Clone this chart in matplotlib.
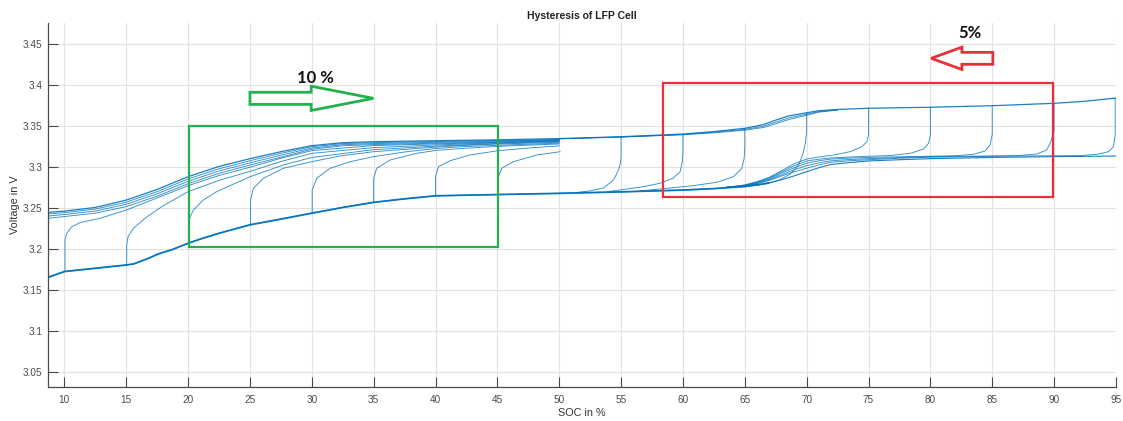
import matplotlib
matplotlib.use("Agg")
import matplotlib.pyplot as plt
from matplotlib.patches import Rectangle, Polygon

# ---------------- data (SOC in %, voltage in V) ----------------
# main discharge branch (lower)
lower_soc = [8.7, 10, 12.5, 15, 15.6, 16.1, 16.8, 17.6, 18.7, 20, 21, 22.5, 25, 27.5, 30, 32.5, 35, 37.5,
             40, 45, 50, 55, 60, 62.5, 65, 66, 67, 68, 69, 70, 71, 72, 73.5, 75, 77.5, 80, 85, 90, 95]
lower_v = [3.1658, 3.1728, 3.1768, 3.1808, 3.1821, 3.1849, 3.1890, 3.1943, 3.1995, 3.2073, 3.2125, 3.2195,
           3.2298, 3.2368, 3.2440, 3.2510, 3.2572, 3.2615, 3.2652, 3.2667, 3.2682, 3.2700, 3.2722, 3.2740,
           3.2765, 3.2785, 3.2810, 3.2850, 3.2895, 3.2946, 3.2995, 3.3035, 3.3058, 3.3077, 3.3092, 3.3105,
           3.3120, 3.3130, 3.3137]

# main charge branch (upper)
upper_soc = [8.7, 10, 12.5, 15, 17.5, 20, 22.5, 25, 27.5, 30, 32.5, 35, 40, 45, 50, 55, 60, 62.5, 65,
             66.5, 67.5, 68.5, 70, 71, 72.5, 75, 80, 85, 90, 92.5, 95]
upper_v = [3.2450, 3.2465, 3.2510, 3.2600, 3.2730, 3.2885, 3.3010, 3.3105, 3.3190, 3.3264, 3.3300, 3.3312,
           3.3324, 3.3335, 3.3350, 3.3373, 3.3405, 3.3435, 3.3475, 3.3520, 3.3575, 3.3625, 3.3665, 3.3690,
           3.3705, 3.3720, 3.3732, 3.3751, 3.3780, 3.3805, 3.3845]

# further charge lines from empty cell
bundle_soc = [8.7, 10, 12.5, 15, 17.5, 20, 22.5, 25, 27.5, 30, 32.5, 35, 40, 45, 50]
b2_v = [3.2430, 3.2447, 3.2490, 3.2575, 3.2703, 3.2857, 3.2982, 3.3080, 3.3170, 3.3251, 3.3288, 3.3300, 3.3314, 3.3326, 3.3340]
b3_v = [3.2405, 3.2424, 3.2466, 3.2549, 3.2677, 3.2829, 3.2955, 3.3054, 3.3147, 3.3235, 3.3275, 3.3289, 3.3304, 3.3318, 3.3335]
b4_v = [3.2378, 3.2399, 3.2440, 3.2520, 3.2648, 3.2800, 3.2926, 3.3027, 3.3123, 3.3220, 3.3262, 3.3277, 3.3294, 3.3310, 3.3330]

# upper branch repeats (55-72 %)
ub_soc = [50, 55, 60, 62.5, 65, 66.5, 67.5, 68.5, 70, 71, 72.5]
ub2_v = [3.3348, 3.3370, 3.3400, 3.3428, 3.3462, 3.3500, 3.3550, 3.3600, 3.3648, 3.3680, 3.3700]
ub3_v = [3.3346, 3.3368, 3.3396, 3.3420, 3.3452, 3.3485, 3.3530, 3.3580, 3.3635, 3.3672, 3.3698]

# charge curves started from the discharge branch (10 % steps)
c10_soc = [10.05, 10.05, 10.19, 10.6, 11.27, 12.89, 15.04, 17.47, 20, 22.5, 25, 27.5, 30, 35, 40, 45, 50]
c10_v = [3.1728, 3.2113, 3.2195, 3.2276, 3.2325, 3.2378, 3.2480, 3.2625, 3.2775, 3.2900, 3.3000, 3.3110,
         3.3203, 3.3265, 3.3285, 3.3303, 3.3325]
c15_soc = [15.04, 15.04, 15.15, 15.58, 16.52, 17.87, 20, 22.5, 25, 27.5, 30, 35, 40, 45, 50]
c15_v = [3.1809, 3.2050, 3.2155, 3.2256, 3.2378, 3.2520, 3.2703, 3.2840, 3.2950, 3.3070, 3.3170, 3.3240,
         3.3272, 3.3298, 3.3320]
c20_soc = [20.05, 20.05, 20.43, 21.24, 22.32, 25.01, 27.7, 30, 35, 40, 45, 50]
c20_v = [3.2075, 3.2357, 3.2479, 3.2601, 3.2703, 3.2885, 3.3028, 3.3120, 3.3215, 3.3258, 3.3290, 3.3315]
c25_soc = [25.05, 25.05, 25.28, 26.09, 27.7, 30, 32.29, 35, 37.68, 40, 42, 45, 50]
c25_v = [3.2298, 3.2601, 3.2744, 3.2866, 3.2988, 3.3068, 3.3138, 3.3190, 3.3220, 3.3245, 3.3265, 3.3283, 3.3305]
c30_soc = [30.03, 30.03, 30.4, 31.48, 33.1, 35, 37.68, 40, 42, 45, 50]
c30_v = [3.2440, 3.2723, 3.2866, 3.2988, 3.3068, 3.3130, 3.3190, 3.3228, 3.3250, 3.3268, 3.3295]
c35_soc = [35.0, 35.0, 35.25, 36.33, 38.5, 40, 42, 45, 50]
c35_v = [3.2572, 3.2866, 3.2988, 3.3089, 3.3171, 3.3205, 3.3228, 3.3255, 3.3284]
c40_soc = [40.0, 40.0, 40.24, 41.18, 42.8, 44.96, 47.5, 50]
c40_v = [3.2652, 3.2885, 3.3007, 3.3080, 3.3150, 3.3200, 3.3235, 3.3260]
c45_soc = [45.03, 45.03, 45.36, 46.3, 48.19, 50.07]
c45_v = [3.2667, 3.2866, 3.2988, 3.3068, 3.3150, 3.3190]

# discharge curves started from the charge branch (5 % steps)
d55_soc = [55, 55, 54.95, 54.8, 54.4, 53.6, 52.5, 51.5]
d55_v = [3.3373, 3.3130, 3.3050, 3.2970, 3.2845, 3.2750, 3.2712, 3.2695]
d60_soc = [60, 60, 59.95, 59.77, 59.2, 58.16, 56.8, 55.5, 54]
d60_v = [3.3405, 3.3200, 3.3068, 3.2946, 3.2866, 3.2805, 3.2764, 3.2735, 3.2705]
d65_soc = [65, 65, 64.95, 64.76, 64.08, 62.74, 60.85, 58.16, 56.5]
d65_v = [3.3475, 3.3250, 3.3110, 3.2988, 3.2885, 3.2817, 3.2776, 3.2735, 3.2712]
d70_soc = [70, 70, 69.9, 69.7, 69.35, 68.7, 67.8, 66.6, 65.3, 63.5]
d70_v = [3.3665, 3.3450, 3.3300, 3.3160, 3.3030, 3.2920, 3.2845, 3.2795, 3.2775, 3.2755]
d75_soc = [75, 75, 74.87, 74.46, 73.5, 72.2, 71, 70, 69, 68, 67, 66, 65, 63.5]
d75_v = [3.3720, 3.3394, 3.3312, 3.3251, 3.3190, 3.3150, 3.3125, 3.3100, 3.3045, 3.2960, 3.2880, 3.2825,
         3.2785, 3.2755]
d80_soc = [80, 80, 79.85, 79.45, 78.4, 76.75, 75, 73.5, 72, 71, 70, 69, 68, 67, 66, 65, 63.5]
d80_v = [3.3732, 3.3394, 3.3292, 3.3223, 3.3171, 3.3142, 3.3135, 3.3125, 3.3115, 3.3098, 3.3077, 3.3020,
         3.2945, 3.2870, 3.2818, 3.2782, 3.2755]
d85_soc = [85, 85, 84.83, 84.43, 83.5, 81.9, 80, 77.5, 75, 73.5, 72, 71, 70, 69, 68, 67, 66, 65, 63.5]
d85_v = [3.3751, 3.3400, 3.3272, 3.3199, 3.3158, 3.3140, 3.3135, 3.3128, 3.3120, 3.3112, 3.3100, 3.3080,
         3.3050, 3.2995, 3.2930, 3.2860, 3.2812, 3.2778, 3.2755]
d90_soc = [90, 90, 89.74, 89.4, 88.6, 87, 85, 80, 77.5, 75, 73.5, 72, 71, 70, 69, 68, 67, 66, 65, 63.5]
d90_v = [3.3780, 3.3450, 3.3312, 3.3211, 3.3162, 3.3142, 3.3138, 3.3130, 3.3118, 3.3105, 3.3095, 3.3080,
         3.3055, 3.3020, 3.2970, 3.2910, 3.2850, 3.2805, 3.2775, 3.2755]
d95_soc = [94.94, 94.94, 94.8, 94.4, 93.46, 92.1, 90, 85, 80, 77.5, 75, 73.5, 72, 71, 70, 69, 68, 67, 66, 65, 63.5]
d95_v = [3.3845, 3.3394, 3.3251, 3.3190, 3.3158, 3.3142, 3.3140, 3.3135, 3.3122, 3.3110, 3.3092, 3.3080,
         3.3062, 3.3030, 3.2988, 3.2945, 3.2895, 3.2840, 3.2800, 3.2772, 3.2755]

x_ticks = [10, 15, 20, 25, 30, 35, 40, 45, 50, 55, 60, 65, 70, 75, 80, 85, 90, 95]
y_ticks = [3.05, 3.1, 3.15, 3.2, 3.25, 3.3, 3.35, 3.4, 3.45]
y_tick_labels = ["3.05", "3.1", "3.15", "3.2", "3.25", "3.3", "3.35", "3.4", "3.45"]

# ---------------- figure ----------------
plt.rcParams["font.family"] = ["Liberation Sans", "DejaVu Sans"]
fig = plt.figure(figsize=(11.23, 4.21), dpi=100)
ax = fig.add_axes([0.043, 0.0808, 0.9507, 0.8646])

BLUE = "#0072BD"
thin = dict(color=BLUE, lw=0.65, alpha=0.8, solid_joinstyle="round")

curves = [
    (bundle_soc, b2_v), (bundle_soc, b3_v), (bundle_soc, b4_v),
    (ub_soc, ub2_v), (ub_soc, ub3_v),
    (c10_soc, c10_v), (c15_soc, c15_v), (c20_soc, c20_v), (c25_soc, c25_v),
    (c30_soc, c30_v), (c35_soc, c35_v), (c40_soc, c40_v), (c45_soc, c45_v),
    (d55_soc, d55_v), (d60_soc, d60_v), (d65_soc, d65_v), (d70_soc, d70_v),
    (d75_soc, d75_v), (d80_soc, d80_v), (d85_soc, d85_v), (d90_soc, d90_v), (d95_soc, d95_v),
]
for xs, ys in curves:
    ax.plot(xs, ys, **thin)

ax.plot(upper_soc, upper_v, color=BLUE, lw=0.9, alpha=0.9, solid_joinstyle="round")
ax.plot(lower_soc, lower_v, color=BLUE, lw=0.8, alpha=0.9, solid_joinstyle="round")
n_thick = lower_soc.index(67) + 1
ax.plot(lower_soc[:n_thick], lower_v[:n_thick], color=BLUE, lw=1.3, alpha=0.9,
        solid_capstyle="butt", solid_joinstyle="round")

# ---------------- axes styling (MATLAB-like) ----------------
ax.set_xlim(8.7, 95)
ax.set_ylim(3.032, 3.476)
ax.set_xticks(x_ticks)
ax.set_yticks(y_ticks)
ax.set_yticklabels(y_tick_labels)
ax.tick_params(direction="in", length=7, width=0.8, colors="#4a4a4a", labelsize=7.2,
               labelcolor="#4a4a4a")
ax.tick_params(axis="x", pad=6)
ax.tick_params(axis="y", pad=4)
ax.grid(True, color="#e2e2e2", lw=0.8)
ax.set_axisbelow(True)
for s in ("top", "right"):
    ax.spines[s].set_visible(False)
for s in ("left", "bottom"):
    ax.spines[s].set_color("#4a4a4a")
    ax.spines[s].set_linewidth(0.9)

ax.set_title("Hysteresis of LFP Cell", fontsize=7.5, fontweight="bold", color="#222222", pad=3)
ax.set_xlabel("SOC in %", fontsize=7.8, color="#333333", labelpad=2)
ax.set_ylabel("Voltage in V", fontsize=7.8, color="#333333", labelpad=2)

# ---------------- annotations ----------------
GREEN = "#22b14c"
RED = "#e8303c"

# green box and arrow (charge direction, 10 % steps)
ax.add_patch(Rectangle((20.05, 3.2032), 45.03 - 20.05, 3.3500 - 3.2032, fill=False,
                       edgecolor=GREEN, lw=1.6, zorder=5))
g_tail, g_base, g_tip, g_y, g_sh, g_hh = 25.0, 29.95, 34.98, 3.3841, 0.0074, 0.0148
ax.add_patch(Polygon([(g_tail, g_y + g_sh), (g_base, g_y + g_sh), (g_base, g_y + g_hh), (g_tip, g_y),
                      (g_base, g_y - g_hh), (g_base, g_y - g_sh), (g_tail, g_y - g_sh)],
                     closed=True, fill=False, edgecolor=GREEN, lw=2.0, joinstyle="miter", zorder=5))
ax.text(30.33, 3.4093, "10 %", fontsize=12, fontweight="bold", family="Lato", color="#111111",
        ha="center", va="center", zorder=6)

# red box and arrow (discharge direction, 5 % steps)
ax.add_patch(Rectangle((58.42, 3.2641), 89.95 - 58.42, 3.4024 - 3.2641, fill=False,
                       edgecolor=RED, lw=1.6, zorder=5))
r_tail, r_base, r_tip, r_y, r_sh, r_hh = 85.05, 82.55, 80.07, 3.4329, 0.0073, 0.0136
ax.add_patch(Polygon([(r_tail, r_y + r_sh), (r_base, r_y + r_sh), (r_base, r_y + r_hh), (r_tip, r_y),
                      (r_base, r_y - r_hh), (r_base, r_y - r_sh), (r_tail, r_y - r_sh)],
                     closed=True, fill=False, edgecolor=RED, lw=2.0, joinstyle="miter", zorder=5))
ax.text(83.22, 3.4634, "5%", fontsize=12, fontweight="bold", family="Lato", color="#111111",
        ha="center", va="center", zorder=6)

fig.savefig("out.png", dpi=100, facecolor="white")
